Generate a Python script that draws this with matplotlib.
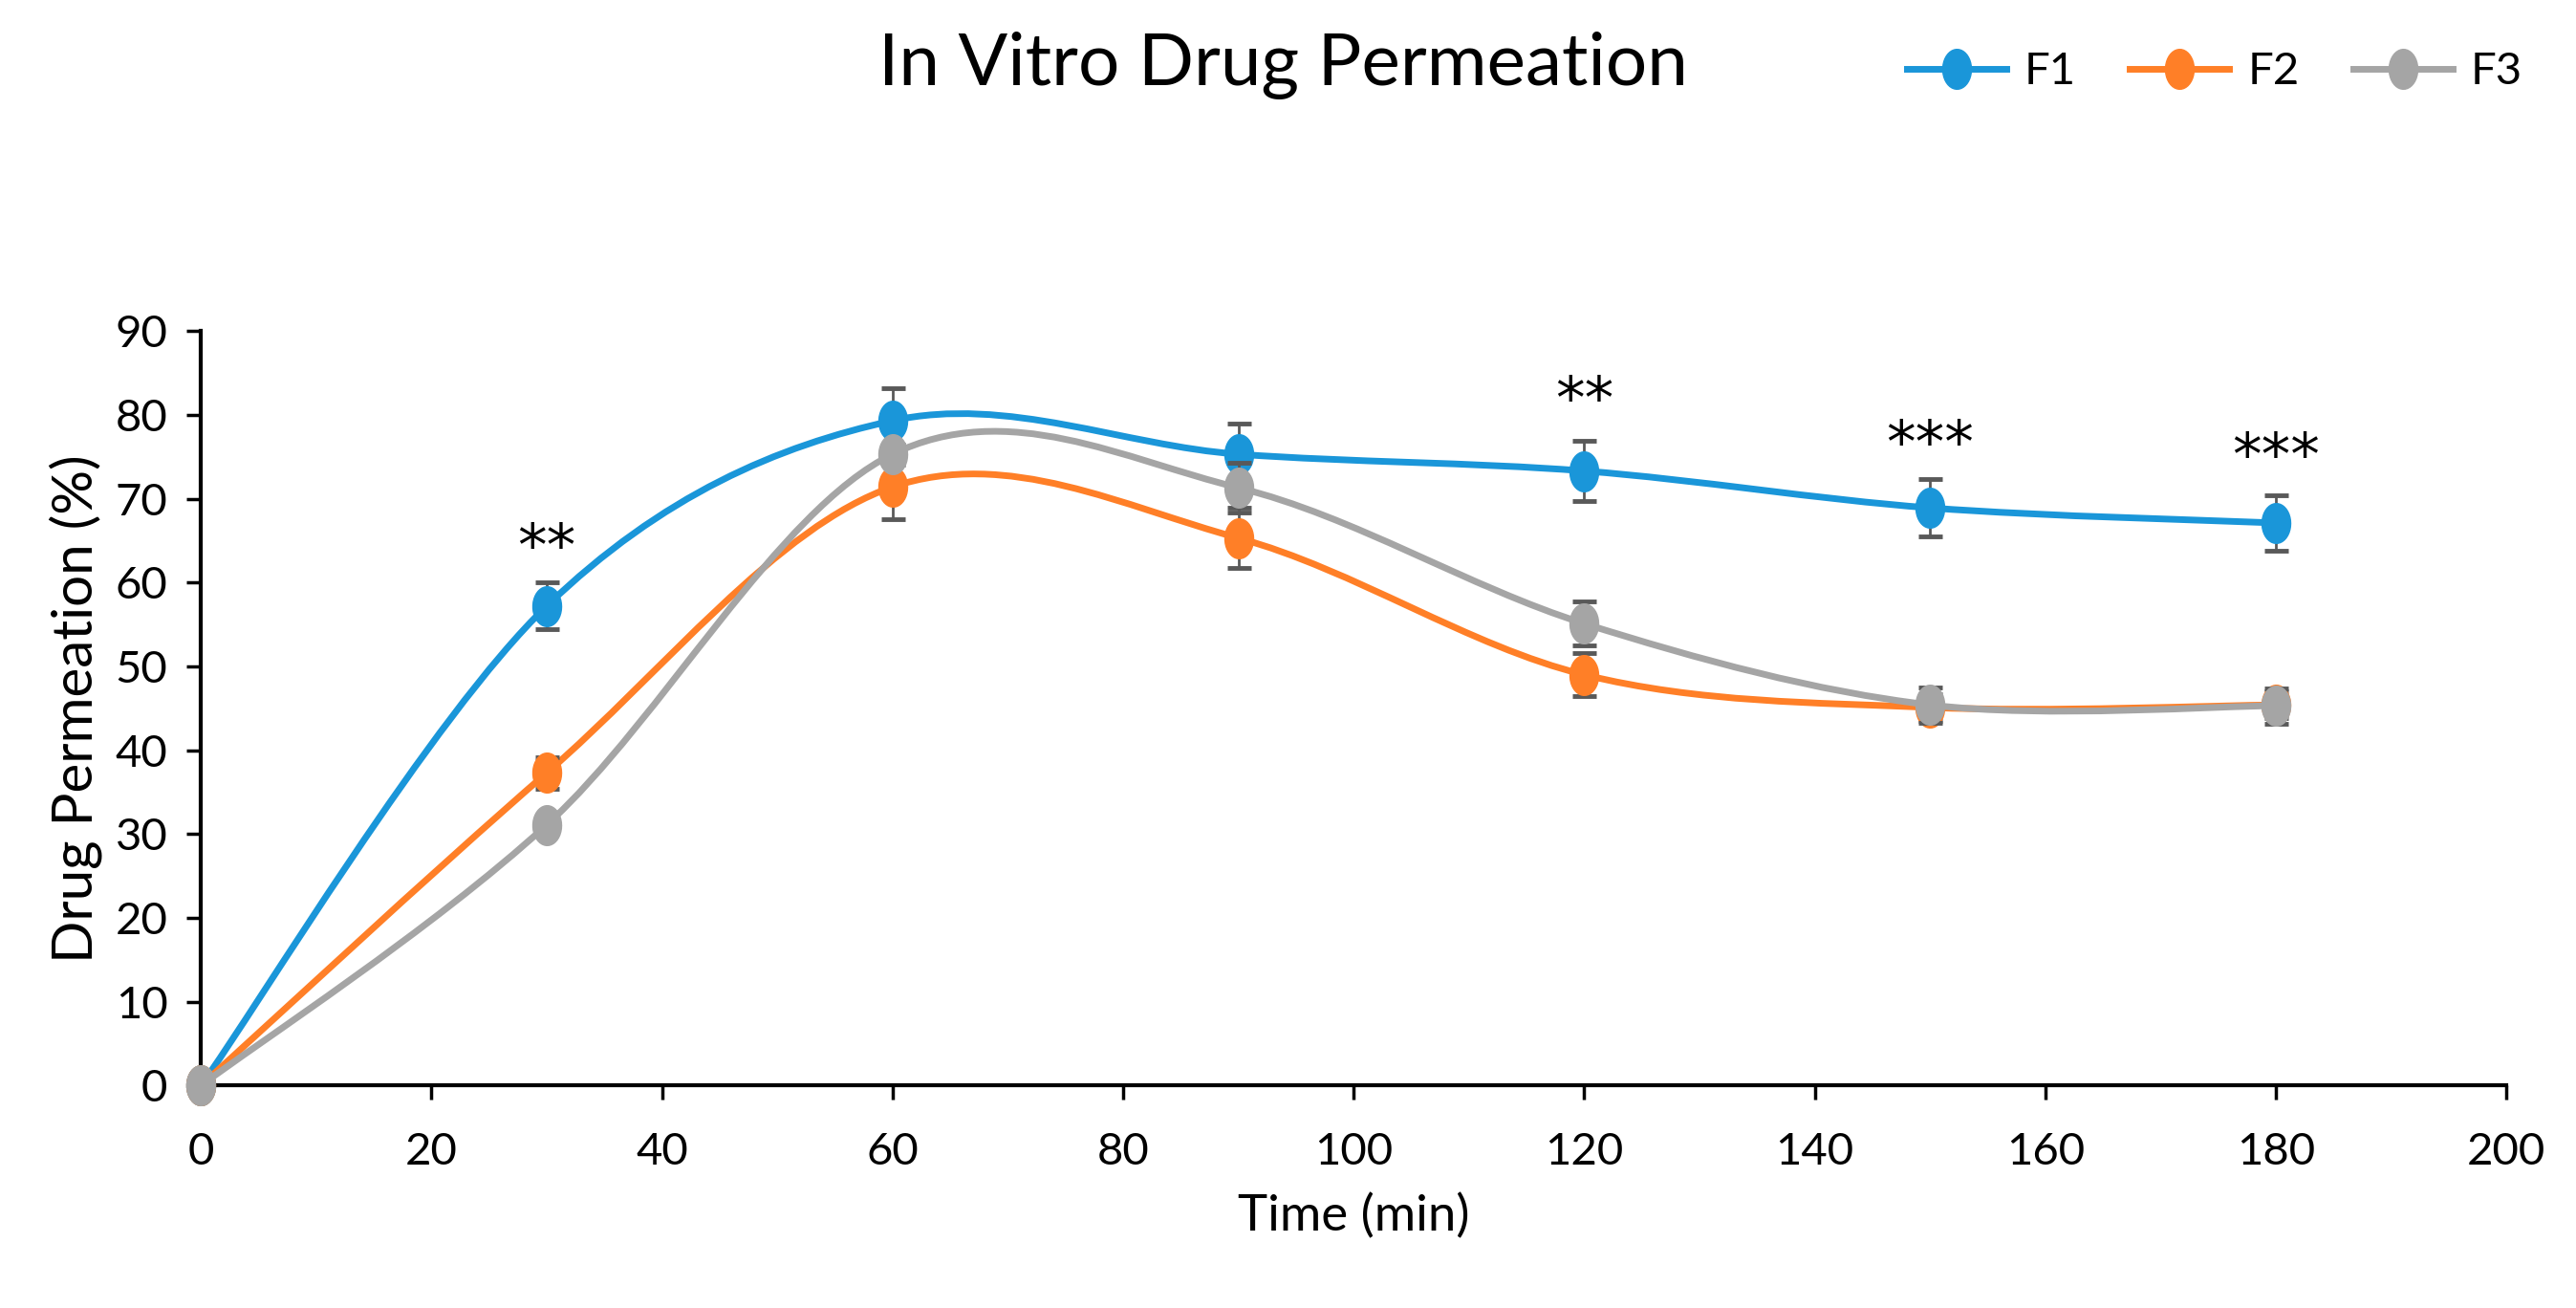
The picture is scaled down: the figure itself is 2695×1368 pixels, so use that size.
import numpy as np
import matplotlib
matplotlib.use("Agg")
from matplotlib import pyplot as plt
from matplotlib.path import Path
from matplotlib.patches import PathPatch

# data
time = [0, 30, 60, 90, 120, 150, 180]
f1 = [0, 57.2, 79.3, 75.3, 73.3, 68.9, 67.1]
f2 = [0, 37.3, 71.4, 65.3, 49.0, 45.1, 45.4]
f3 = [0, 31.1, 75.3, 71.3, 55.1, 45.4, 45.3]
f1_err = [0, 2.8, 3.9, 3.6, 3.6, 3.4, 3.3]
f2_err = [0, 1.9, 3.9, 3.6, 2.6, 1.6, 1.6]
f3_err = [0, 1.0, 1.2, 3.0, 2.6, 2.1, 2.1]

stars_x = [30, 120, 150, 180]
stars_y = [64.0, 81.5, 76.3, 74.8]
stars_txt = ["**", "**", "***", "***"]

labels = ["F1", "F2", "F3"]
colors = ["#1A96D9", "#FF7F27", "#A5A5A5"]

plt.rcParams['font.family'] = ['Lato', 'DejaVu Sans']


def smooth_path(xs, ys):
    # excel style smoothed line: cubic bezier through every point
    p = np.column_stack([xs, ys]).astype(float)
    n = len(p)
    verts = [p[0]]
    codes = [Path.MOVETO]
    for i in range(n - 1):
        prev = p[i - 1] if i > 0 else p[i]
        nxt = p[i + 2] if i + 2 < n else p[i + 1]
        c1 = p[i] + (p[i + 1] - prev) / 6.0
        c2 = p[i + 1] - (nxt - p[i]) / 6.0
        verts += [c1, c2, p[i + 1]]
        codes += [Path.CURVE4] * 3
    return Path(verts, codes)


# slightly narrow ellipse marker, like the stretched original
t = np.linspace(0, 2 * np.pi, 40)
ell = Path(np.column_stack([0.72 * np.cos(t), np.sin(t)]), closed=True)

fig = plt.figure(figsize=(26.95, 13.68), dpi=100)
ax = fig.add_axes([0.078, 0.170, 0.895, 0.577])

series = [f1, f2, f3]
errs = [f1_err, f2_err, f3_err]
for k in range(3):
    ax.add_patch(PathPatch(smooth_path(time, series[k]), fill=False,
                           edgecolor=colors[k], lw=5, zorder=2 + k,
                           capstyle='round'))
    ax.errorbar(time, series[k], yerr=errs[k], fmt='none', ecolor='#595959',
                elinewidth=2, capsize=9, capthick=3.5, zorder=2 + k)
    ax.plot(time, series[k], linestyle='none', marker=ell, markersize=30,
            color=colors[k], zorder=2.5 + k, clip_on=False)
    # legend handle
    ax.plot([], [], color=colors[k], lw=5, marker=ell, markersize=30,
            label=labels[k])

for sx, sy, st in zip(stars_x, stars_y, stars_txt):
    ax.text(sx, sy, st, ha='center', va='center', fontsize=44,
            family='DejaVu Sans')

ax.set_xlim(0, 200)
ax.set_ylim(0, 90)
ax.set_xticks(range(0, 201, 20))
ax.set_yticks(range(0, 91, 10))
ax.tick_params(axis='both', labelsize=34, length=11, width=2.5,
               direction='out', color='black')
ax.tick_params(axis='x', pad=24)
ax.tick_params(axis='y', pad=14)
for s in ['top', 'right']:
    ax.spines[s].set_visible(False)
for s in ['left', 'bottom']:
    ax.spines[s].set_linewidth(3)

ax.set_xlabel('Time (min)', fontsize=38, labelpad=16)
ax.set_ylabel('Drug Permeation (%)', fontsize=42, labelpad=10)

fig.text(0.498, 0.95, 'In Vitro Drug Permeation', ha='center', va='center',
         fontsize=55)

fig.legend(loc='center right', bbox_to_anchor=(0.995, 0.945), ncol=3,
           frameon=False, fontsize=34, handlelength=2.2, columnspacing=1.2,
           handletextpad=0.4)

fig.savefig('out.png', dpi=100)
